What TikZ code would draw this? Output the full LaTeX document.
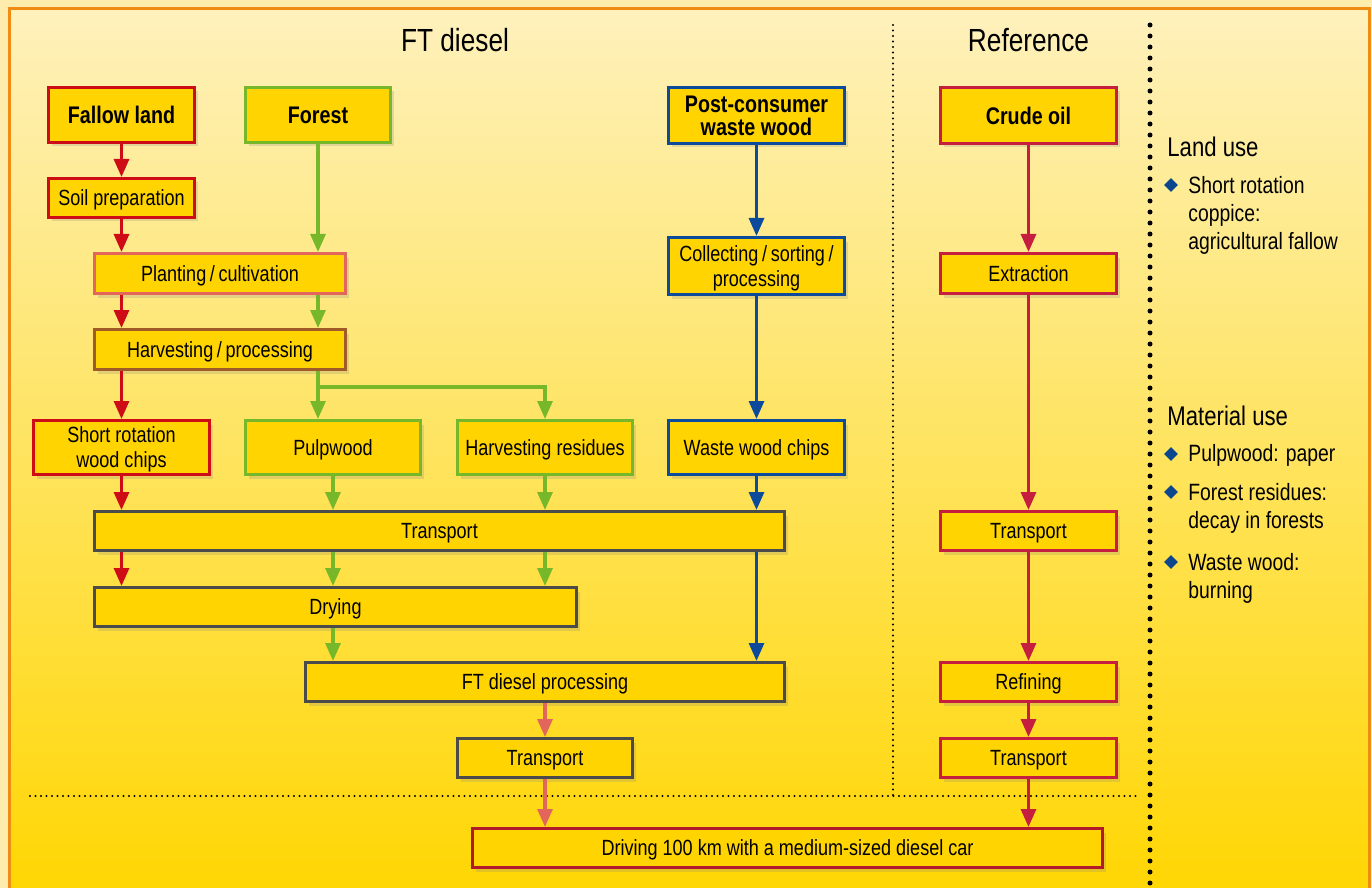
\documentclass[tikz,border=0pt]{standalone}
\usepackage{fontspec}
\setmainfont{Liberation Sans}[FakeStretch=0.82]
\usetikzlibrary{arrows.meta,shadows,shapes.geometric}

\definecolor{cred}{RGB}{205,12,22}
\definecolor{cgreen}{RGB}{118,184,42}
\definecolor{cblue}{RGB}{12,75,155}
\definecolor{ccrimson}{RGB}{198,30,62}
\definecolor{csalmon}{RGB}{226,102,92}
\definecolor{cbrown}{RGB}{160,92,40}
\definecolor{cgray}{RGB}{75,75,75}
\definecolor{cdrive}{RGB}{176,26,42}
\definecolor{boxfill}{RGB}{255,212,0}
\definecolor{corange}{RGB}{240,140,20}
\definecolor{outerbg}{RGB}{253,236,172}
\definecolor{bgtop}{RGB}{254,241,188}
\definecolor{bgmid}{RGB}{254,228,112}
\definecolor{bgbot}{RGB}{255,214,0}
\definecolor{dotblue}{RGB}{12,70,140}

\tikzset{
  box/.style={draw, fill=boxfill, line width=1.5pt, inner sep=0pt, align=center,
    text depth=0pt, font=\fontsize{11}{12.5}\selectfont,
    drop shadow={shadow xshift=1.5pt, shadow yshift=-2pt, opacity=0.22}},
  startbox/.style={box, font=\bfseries\fontsize{12}{11.5}\selectfont},
  flow/.style={line width=1.6pt, -{Triangle[length=9pt,width=7.5pt]}},
  smalldots/.style={line width=1.2pt, line cap=round, dash pattern=on 0pt off 2.75pt},
  bigdots/.style={line width=2.5pt, line cap=round, dash pattern=on 0pt off 5.5pt},
  title/.style={anchor=base, inner sep=0pt, font=\fontsize{16}{16}\selectfont},
  sidehead/.style={anchor=base west, inner sep=0pt, font=\fontsize{13.5}{16}\selectfont},
  sidetext/.style={inner sep=0pt, align=left, font=\fontsize{11.8}{14}\selectfont},
  bullet/.style={diamond, fill=dotblue, inner sep=0pt, minimum size=7pt}
}

\begin{document}
\begin{tikzpicture}[x=0.5pt, y=-0.5pt]
  \useasboundingbox (0,0) rectangle (1372,888);
  \clip (0,0) rectangle (1372,888);

  % background and frame
  \fill[outerbg] (0,0) rectangle (1372,888);
  \path[draw=corange, line width=1.5pt, top color=bgtop, middle color=bgmid,
    bottom color=bgbot] (9,9) rectangle (1369,905);

  % separators
  \draw[smalldots] (893,25) -- (893,796);
  \draw[smalldots] (30,796) -- (1137,796);
  \draw[bigdots] (1150,25) -- (1150,888);

  % headings
  \node[title] (fttitle) at (455,51.5) {FT diesel};
  \node[title] (reftitle) at (1028.5,51.5) {Reference};

  % FT diesel chain
  \node[startbox, draw=cred, minimum width=73pt, minimum height=27.5pt] (fallow) at (121.5,115) {Fallow land};
  \node[startbox, draw=cgreen, minimum width=72.5pt, minimum height=27.5pt] (forest) at (318,115) {Forest};
  \node[startbox, draw=cblue, minimum width=88pt, minimum height=28pt] (postcons) at (756.5,115.5) {Post-consumer\\waste wood};
  \node[box, draw=cred, minimum width=73pt, minimum height=19.5pt] (soil) at (121.5,198) {Soil preparation};
  \node[box, draw=csalmon, minimum width=125.5pt, minimum height=20pt] (plant) at (220,273.5) {Planting\,/\,cultivation};
  \node[box, draw=cblue, minimum width=88pt, minimum height=28.5pt] (collect) at (756.5,266) {Collecting\,/\,sorting\,/\\processing};
  \node[box, draw=cbrown, minimum width=125.5pt, minimum height=20pt] (harvest) at (220,349.5) {Harvesting\,/\,processing};
  \node[box, draw=cred, minimum width=88pt, minimum height=27pt] (srwc) at (121.5,447.5) {Short rotation\\wood chips};
  \node[box, draw=cgreen, minimum width=87.5pt, minimum height=27pt] (pulp) at (333,447.5) {Pulpwood};
  \node[box, draw=cgreen, minimum width=87.5pt, minimum height=27pt] (resid) at (545,447.5) {Harvesting residues};
  \node[box, draw=cblue, minimum width=88pt, minimum height=27pt] (chips) at (756.5,447.5) {Waste wood chips};
  \node[box, draw=cgray, minimum width=345pt, minimum height=19.5pt] (trans) at (439.5,531) {Transport};
  \node[box, draw=cgray, minimum width=241pt, minimum height=19.5pt] (dry) at (335.5,607) {Drying};
  \node[box, draw=cgray, minimum width=239.5pt, minimum height=19.5pt] (ftproc) at (545,682) {FT diesel processing};
  \node[box, draw=cgray, minimum width=87.5pt, minimum height=19.5pt] (fttrans) at (545,758) {Transport};

  % reference chain
  \node[startbox, draw=ccrimson, minimum width=88pt, minimum height=28pt] (crude) at (1028.5,115.5) {Crude oil};
  \node[box, draw=ccrimson, minimum width=88pt, minimum height=20pt] (extract) at (1028.5,273.5) {Extraction};
  \node[box, draw=ccrimson, minimum width=88pt, minimum height=19.5pt] (reftrans) at (1028.5,531) {Transport};
  \node[box, draw=ccrimson, minimum width=88pt, minimum height=19.5pt] (refine) at (1028.5,682) {Refining};
  \node[box, draw=ccrimson, minimum width=88pt, minimum height=19.5pt] (reftrans2) at (1028.5,758) {Transport};

  % common end
  \node[box, draw=cdrive, minimum width=315pt, minimum height=19.5pt] (drive) at (787.5,848) {Driving 100 km with a medium-sized diesel car};

  % red flow
  \draw[flow, cred] (fallow) -- (soil);
  \draw[flow, cred] (soil.south) -- (soil.south |- plant.north);
  \draw[flow, cred] (plant.south -| soil.south) -- (harvest.north -| soil.south);
  \draw[flow, cred] (harvest.south -| soil.south) -- (srwc.north);
  \draw[flow, cred] (srwc.south) -- (srwc.south |- trans.north);
  \draw[flow, cred] (trans.south -| srwc.south) -- (dry.north -| srwc.south);

  % green flow
  \draw[flow, cgreen] (forest.south) -- (forest.south |- plant.north);
  \draw[flow, cgreen] (plant.south -| forest.south) -- (harvest.north -| forest.south);
  \draw[flow, cgreen] (harvest.south -| forest.south) -- (pulp.north -| forest.south);
  \draw[flow, cgreen] (harvest.south -| forest.south) -- ++(0,16) -| (resid.north);
  \draw[flow, cgreen] (pulp.south) -- (pulp.south |- trans.north);
  \draw[flow, cgreen] (trans.south -| pulp.south) -- (dry.north -| pulp.south);
  \draw[flow, cgreen] (dry.south -| pulp.south) -- (ftproc.north -| pulp.south);
  \draw[flow, cgreen] (resid.south) -- (resid.south |- trans.north);
  \draw[flow, cgreen] (trans.south -| resid.south) -- (dry.north -| resid.south);

  % blue flow
  \draw[flow, cblue] (postcons) -- (collect);
  \draw[flow, cblue] (collect) -- (chips);
  \draw[flow, cblue] (chips.south) -- (chips.south |- trans.north);
  \draw[flow, cblue] (trans.south -| chips.south) -- (ftproc.north -| chips.south);

  % product to car
  \draw[flow, csalmon] (ftproc.south) -- (fttrans.north);
  \draw[flow, csalmon] (fttrans.south) -- (fttrans.south |- drive.north);

  % reference flow
  \draw[flow, ccrimson] (crude) -- (extract);
  \draw[flow, ccrimson] (extract) -- (reftrans);
  \draw[flow, ccrimson] (reftrans) -- (refine);
  \draw[flow, ccrimson] (refine) -- (reftrans2);
  \draw[flow, ccrimson] (reftrans2.south) -- (reftrans2.south |- drive.north);

  % side notes
  \node[sidehead] (landuse) at (1167,156) {Land use};
  \node[bullet] (lub1) at (1171,185) {};
  \node[sidetext, anchor=north west] (lut1) at (1188,176) {Short rotation\\coppice:\\agricultural fallow};

  \node[sidehead] (matuse) at (1167,425) {Material use};
  \node[bullet] (mub1) at (1171,454) {};
  \node[sidetext, anchor=base west] (mut1) at (1188,461.5) {Pulpwood: paper};
  \node[bullet] (mub2) at (1171,492) {};
  \node[sidetext, anchor=north west] (mut2) at (1188,482.5) {Forest residues:\\decay in forests};
  \node[bullet] (mub3) at (1171,562) {};
  \node[sidetext, anchor=north west] (mut3) at (1188,552.5) {Waste wood:\\burning};
\end{tikzpicture}
\end{document}
